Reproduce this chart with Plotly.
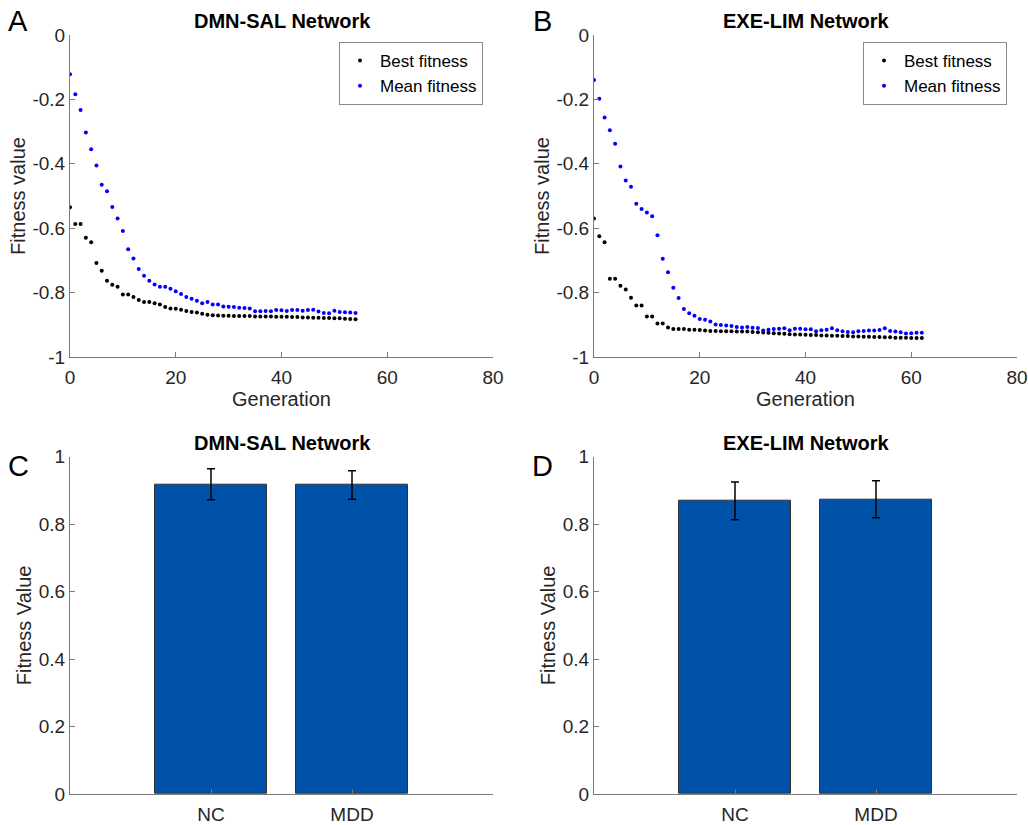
import plotly.graph_objects as go

# ---- data ----
dmn_best = [-0.535, -0.587, -0.587, -0.630, -0.644, -0.708, -0.732, -0.763, -0.776, -0.782,
            -0.806, -0.806, -0.814, -0.823, -0.829, -0.829, -0.833, -0.837, -0.845, -0.849,
            -0.850, -0.853, -0.857, -0.860, -0.862, -0.866, -0.869, -0.870, -0.871, -0.872,
            -0.872, -0.873, -0.873, -0.873, -0.873, -0.874, -0.874, -0.874, -0.874, -0.875,
            -0.875, -0.875, -0.876, -0.876, -0.877, -0.877, -0.878, -0.878, -0.879, -0.879,
            -0.880, -0.880, -0.881, -0.882, -0.883]
dmn_mean = [-0.122, -0.184, -0.233, -0.303, -0.355, -0.405, -0.465, -0.485, -0.534, -0.570,
            -0.609, -0.665, -0.694, -0.727, -0.748, -0.763, -0.775, -0.782, -0.782, -0.788,
            -0.796, -0.804, -0.814, -0.819, -0.825, -0.833, -0.829, -0.837, -0.837, -0.843,
            -0.844, -0.845, -0.847, -0.848, -0.849, -0.858, -0.858, -0.857, -0.858, -0.854,
            -0.855, -0.857, -0.854, -0.854, -0.856, -0.854, -0.853, -0.859, -0.863, -0.864,
            -0.856, -0.860, -0.861, -0.862, -0.863]
exe_best = [-0.570, -0.625, -0.644, -0.757, -0.757, -0.779, -0.790, -0.816, -0.840, -0.840,
            -0.874, -0.874, -0.896, -0.896, -0.908, -0.913, -0.913, -0.913, -0.915, -0.915,
            -0.916, -0.918, -0.919, -0.919, -0.920, -0.920, -0.920, -0.921, -0.921, -0.921,
            -0.922, -0.923, -0.924, -0.925, -0.926, -0.927, -0.928, -0.929, -0.930, -0.930,
            -0.931, -0.932, -0.932, -0.933, -0.933, -0.934, -0.934, -0.935, -0.935, -0.936,
            -0.936, -0.937, -0.937, -0.938, -0.938, -0.939, -0.939, -0.940, -0.940, -0.940,
            -0.941, -0.941, -0.941]
exe_mean = [-0.140, -0.198, -0.256, -0.296, -0.338, -0.408, -0.452, -0.471, -0.524, -0.540,
            -0.551, -0.563, -0.622, -0.695, -0.737, -0.785, -0.817, -0.851, -0.864, -0.872,
            -0.882, -0.884, -0.890, -0.899, -0.901, -0.902, -0.904, -0.907, -0.908, -0.907,
            -0.909, -0.910, -0.918, -0.915, -0.913, -0.912, -0.911, -0.917, -0.912, -0.912,
            -0.914, -0.914, -0.920, -0.917, -0.915, -0.911, -0.917, -0.920, -0.922, -0.923,
            -0.920, -0.919, -0.918, -0.918, -0.916, -0.911, -0.919, -0.921, -0.923, -0.927,
            -0.926, -0.925, -0.925]

groups = ["NC", "MDD"]
dmn_bar = [0.918, 0.916]
dmn_err = [0.046, 0.042]
exe_bar = [0.869, 0.874]
exe_err = [0.056, 0.055]

line_titles = ["DMN-SAL Network", "EXE-LIM Network"]
panel_letters = ["A", "B", "C", "D"]
gen_ticks = [0, 20, 40, 60, 80]
fit_ticks = [0, -0.2, -0.4, -0.6, -0.8, -1]
fit_tick_text = ["0", "-0.2", "-0.4", "-0.6", "-0.8", "-1"]
bar_ticks = [0, 0.2, 0.4, 0.6, 0.8, 1]
bar_tick_text = ["0", "0.2", "0.4", "0.6", "0.8", "1"]

FONT = "Liberation Sans, Arial, sans-serif"
AX_COLOR = "#7a7a7a"
BAR_COLOR = "#0052A8"

fig = go.Figure()

# ---- scatter panels (A, B) ----
for i, (best, mean) in enumerate([(dmn_best, dmn_mean), (exe_best, exe_mean)]):
    xa = "x" if i == 0 else "x2"
    ya = "y" if i == 0 else "y2"
    lg = "legend" if i == 0 else "legend2"
    fig.add_trace(go.Scatter(x=list(range(len(best))), y=best, mode="markers",
                             marker=dict(color="black", size=4), name="Best fitness",
                             xaxis=xa, yaxis=ya, legend=lg))
    fig.add_trace(go.Scatter(x=list(range(len(mean))), y=mean, mode="markers",
                             marker=dict(color="#0000ff", size=4), name="Mean fitness",
                             xaxis=xa, yaxis=ya, legend=lg))

# ---- bar panels (C, D) ----
for i, (vals, errs) in enumerate([(dmn_bar, dmn_err), (exe_bar, exe_err)]):
    xa = "x3" if i == 0 else "x4"
    ya = "y3" if i == 0 else "y4"
    fig.add_trace(go.Bar(x=[1, 2], y=vals, width=0.8,
                         marker=dict(color=BAR_COLOR, line=dict(color="#333333", width=1)),
                         error_y=dict(type="data", array=errs, color="black", thickness=1.5, width=4),
                         showlegend=False, xaxis=xa, yaxis=ya))

left_dom = [70 / 1028, 493 / 1028]
right_dom = [594 / 1028, 1017 / 1028]
top_dom = [1 - 357 / 825, 1 - 35 / 825]
bot_dom = [1 - 794 / 825, 1 - 456.7 / 825]

tick_font = dict(family=FONT, size=19, color="#262626")
title_font = dict(family=FONT, size=20, color="#262626")

common = dict(showline=True, linecolor=AX_COLOR, linewidth=1, ticks="inside", ticklen=5,
              tickcolor=AX_COLOR, showgrid=False, zeroline=False, tickfont=tick_font,
              mirror=False, automargin=False)

layout = dict(
    width=1028, height=825, margin=dict(l=0, r=0, t=0, b=0),
    plot_bgcolor="white", paper_bgcolor="white", bargap=0,
    font=dict(family=FONT, color="#262626"),
)

for n, dom in [("", left_dom), ("2", right_dom)]:
    layout["xaxis" + n] = dict(common, domain=dom, range=[0, 80], tickvals=gen_ticks,
                               anchor="y" + n, ticklabelstandoff=3,
                               title=dict(text="Generation", font=title_font, standoff=4))
    layout["yaxis" + n] = dict(common, domain=top_dom, range=[-1, 0], tickvals=fit_ticks,
                               ticktext=fit_tick_text, anchor="x" + n,
                               title=dict(text="Fitness value", font=title_font, standoff=1))
for n, dom in [("3", left_dom), ("4", right_dom)]:
    layout["xaxis" + n] = dict(common, domain=dom, range=[0, 3], tickvals=[1, 2],
                               ticktext=groups, anchor="y" + n, ticklabelstandoff=3)
    layout["yaxis" + n] = dict(common, domain=bot_dom, range=[0, 1], tickvals=bar_ticks,
                               ticktext=bar_tick_text, anchor="x" + n,
                               title=dict(text="Fitness Value", font=title_font, standoff=1))

legend_style = dict(font=dict(family=FONT, size=17, color="black"), bgcolor="white",
                    bordercolor="#8a8a8a", borderwidth=1, xanchor="right", yanchor="top",
                    tracegroupgap=0)
layout["legend"] = dict(legend_style, x=483 / 1028, y=1 - 42 / 825)
layout["legend2"] = dict(legend_style, x=1007 / 1028, y=1 - 42 / 825)

fig.update_layout(**layout)

# panel titles and letters
annotations = []
for j, (cx, cy) in enumerate([(282, 21), (806, 21), (282, 443), (806, 443)]):
    annotations.append(dict(x=cx / 1028, y=1 - cy / 825, xref="paper", yref="paper",
                            text="<b>" + line_titles[j % 2] + "</b>", showarrow=False,
                            font=dict(family=FONT, size=20, color="black"),
                            xanchor="center", yanchor="middle"))
for letter, (lx, ly) in zip(panel_letters, [(18, 21), (542, 21), (18, 466), (542, 466)]):
    annotations.append(dict(x=lx / 1028, y=1 - ly / 825, xref="paper", yref="paper",
                            text=letter, showarrow=False,
                            font=dict(family=FONT, size=29, color="black"),
                            xanchor="center", yanchor="middle"))
fig.update_layout(annotations=annotations)

fig.write_html("out.html")
